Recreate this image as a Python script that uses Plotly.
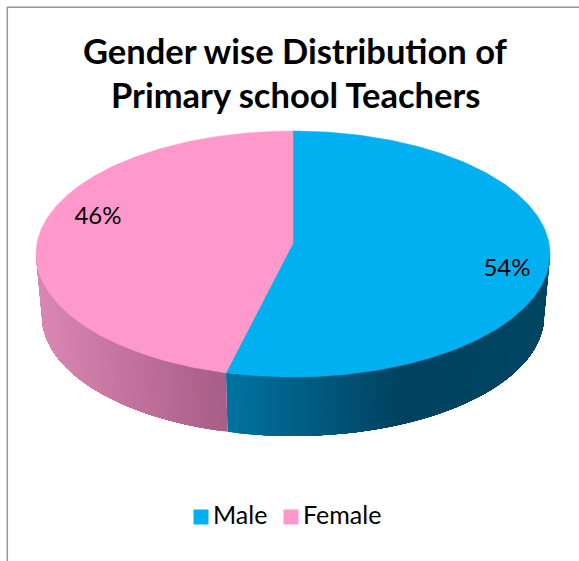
import numpy as np
import plotly.graph_objects as go

categories = ["Male", "Female"]
shares = [54.2, 45.8]
value_labels = ["54%", "46%"]
title_lines = ["Gender wise Distribution of", "Primary school Teachers"]
top_colors = ["#00B0F0", "#FF99CC"]

W, H = 579, 561
CX, CY, RX, RY = 293, 254, 257, 123      # top ellipse
BX, BY, BRX, BRY = 293, 316, 251, 120    # bottom ellipse of the wall
APEX = (293, 243)
LABEL_POS = [(507, 270), (98, 218)]
TITLE_POS = [(295, 50), (295, 94)]
LEGEND_SWATCH_X = [201, 291]
LEGEND_TEXT_X = [213, 303]
LEGEND_Y = 517
FONT = "Lato, Carlito, sans-serif"


def top(t):
    return CX + RX * np.sin(t), CY - RY * np.cos(t)


def bottom(t):
    return BX + BRX * np.sin(t), BY - BRY * np.cos(t)


def lerp(a, b, f):
    return tuple(a[i] + (b[i] - a[i]) * f for i in range(3))


def wall_color(cat, x):
    if cat == 1:
        f = np.clip((x - 40) / (228 - 40), 0, 1)
        c = lerp((218, 135, 179), (168, 94, 134), f)
    else:
        if x < 400:
            f = np.clip((x - 228) / (400 - 228), 0, 1)
            c = lerp((0, 114, 160), (0, 66, 96), f)
        else:
            f = np.clip((x - 400) / 150, 0, 1)
            c = lerp((0, 66, 96), (0, 70, 100), f)
    return "rgb(%d,%d,%d)" % c


fig = go.Figure()

fractions = np.cumsum([0] + shares) / sum(shares) * 2 * np.pi
spans = [(fractions[i], fractions[i + 1]) for i in range(len(shares))]

# side walls: only the front half (90 to 270 degrees clockwise from 12 o'clock).
# Every band runs from its own start to the far end of the slice and the next
# band paints over it, which leaves no seams between colour steps.
for i, (a, b) in enumerate(spans):
    lo, hi = max(a, np.pi / 2), min(b, 3 * np.pi / 2)
    edges = np.linspace(hi, lo, 90) if i == 0 else np.linspace(lo, hi, 90)
    end = lo if i == 0 else hi
    for t0 in edges[:-1]:
        ts = np.linspace(t0, end, 40)
        xt, yt = top(ts)
        xb, yb = bottom(ts[::-1])
        col = wall_color(i, float(top(np.array([t0]))[0][0]))
        fig.add_trace(go.Scatter(
            x=np.r_[xt, xb], y=np.r_[yt, yb], mode="lines", fill="toself",
            fillcolor=col, line=dict(color=col, width=0),
            hoverinfo="skip", showlegend=False))

# top faces
for i, (a, b) in enumerate(spans):
    ts = np.linspace(a, b, 240)
    xt, yt = top(ts)
    fig.add_trace(go.Scatter(
        x=np.r_[APEX[0], xt, APEX[0]], y=np.r_[APEX[1], yt, APEX[1]],
        mode="lines", fill="toself", fillcolor=top_colors[i],
        line=dict(color=top_colors[i], width=0.5),
        hoverinfo="skip", showlegend=False))

# legend keys
fig.add_trace(go.Scatter(
    x=LEGEND_SWATCH_X, y=[LEGEND_Y] * len(categories), mode="markers",
    marker=dict(symbol="square", size=15, color=top_colors),
    hoverinfo="skip", showlegend=False))
fig.add_trace(go.Scatter(
    x=LEGEND_TEXT_X, y=[LEGEND_Y + 1] * len(categories), mode="text",
    text=categories, textposition="middle right",
    textfont=dict(family=FONT, size=25, color="#000000"),
    hoverinfo="skip", showlegend=False))

# value labels
fig.add_trace(go.Scatter(
    x=[p[0] for p in LABEL_POS], y=[p[1] for p in LABEL_POS], mode="text",
    text=value_labels, textposition="middle center",
    textfont=dict(family=FONT, size=24, color="#000000"),
    hoverinfo="skip", showlegend=False))

fig.update_layout(
    width=W, height=H, autosize=False,
    margin=dict(l=0, r=0, t=0, b=0),
    paper_bgcolor="white", plot_bgcolor="white",
    showlegend=False,
    xaxis=dict(range=[0, W], visible=False, fixedrange=True),
    yaxis=dict(range=[H, 0], visible=False, fixedrange=True),
    annotations=[
        dict(text=line, x=p[0], y=p[1], xref="x", yref="y", showarrow=False,
             xanchor="center", yanchor="middle",
             font=dict(family=FONT, size=34.5, color="#000000", weight="bold"))
        for line, p in zip(title_lines, TITLE_POS)
    ],
    shapes=[
        dict(type="line", xref="x", yref="y", x0=7.3, x1=7.3, y0=7, y1=H,
             line=dict(color="#969696", width=1.5)),
        dict(type="line", xref="x", yref="y", x0=7, x1=W, y0=7.3, y1=7.3,
             line=dict(color="#969696", width=1.5)),
    ],
)

fig.write_html(
    "out.html", config=dict(displayModeBar=False),
    post_script="document.body.style.margin='0';document.body.style.overflow='hidden';")
